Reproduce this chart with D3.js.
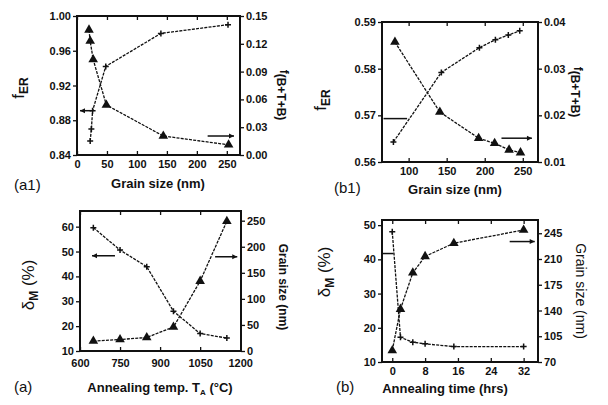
<!DOCTYPE html>
<html><head><meta charset="utf-8">
<script src="https://cdn.jsdelivr.net/npm/d3@7"></script>
<style>
body{margin:0;background:#fff;}
text{font-family:"Liberation Sans",Arial,sans-serif;fill:#111;}
.tick text{font-weight:bold;font-size:11px;}
</style></head><body>
<svg id="fig" width="608" height="405"></svg>
<script>
// (a1) f_ER and f(B+T+B) vs grain size
var a1CrossGrain = [22, 24, 26, 48, 140, 252];
var a1Fer = [0.856, 0.870, 0.891, 0.942, 0.980, 0.990];
var a1TriGrain = [20, 22, 27, 49, 144, 253];
var a1Fbtb = [0.135, 0.123, 0.103, 0.054, 0.0205, 0.011];
var a1XTicks = [0, 50, 100, 150, 200, 250];
var a1LTicks = [0.84, 0.88, 0.92, 0.96, 1.00];
var a1RTicks = [0.00, 0.03, 0.06, 0.09, 0.12, 0.15];

// (b1)
var b1CrossGrain = [80, 143, 193, 214, 231, 246];
var b1Fer = [0.5643, 0.5792, 0.5845, 0.5862, 0.5872, 0.5881];
var b1TriGrain = [82, 141, 192, 213, 232, 247];
var b1Fbtb = [0.0357, 0.0207, 0.0151, 0.0140, 0.0126, 0.0120];
var b1XTicks = [100, 150, 200, 250];
var b1LTicks = [0.56, 0.57, 0.58, 0.59];
var b1RTicks = [0.01, 0.02, 0.03, 0.04];

// (a) delta_M and grain size vs annealing temperature
var aTemp = [650, 750, 850, 950, 1050, 1150];
var aDelta = [59.6, 50.6, 43.9, 26.0, 17.0, 15.2];
var aGrain = [19, 22, 26, 46, 134, 249];
var aXTicks = [600, 750, 900, 1050, 1200];
var aLTicks = [10, 20, 30, 40, 50, 60];
var aRTicks = [0, 50, 100, 150, 200, 250];

// (b) delta_M and grain size vs annealing time
var bTime = [0, 2, 5, 8, 15, 32];
var bDelta = [48.1, 17.2, 15.8, 15.3, 14.5, 14.5];
var bGrain = [85.6, 141.8, 191.2, 213.5, 231.5, 249.4];
var bXTicks = [0, 8, 16, 24, 32];
var bLTicks = [10, 20, 30, 40, 50];
var bRTicks = [70, 105, 140, 175, 210, 245];

var svg = d3.select('#fig');

function panel(cfg) {
  var g = svg.append('g');
  var b = cfg.box;
  var x = d3.scaleLinear().domain(cfg.xDom).range([b[0], b[2]]);
  var yL = d3.scaleLinear().domain(cfg.lDom).range([b[3], b[1]]);
  var yR = d3.scaleLinear().domain(cfg.rDom).range([b[3], b[1]]);

  g.append('g').attr('transform', 'translate(0,' + b[3] + ')')
    .call(d3.axisBottom(x).tickValues(cfg.xTicks).tickSize(-4).tickPadding(cfg.xPad || 5).tickFormat(d3.format('d')));
  g.append('g').attr('transform', 'translate(0,' + b[1] + ')')
    .call(d3.axisTop(x).tickValues(cfg.xTicks).tickSize(-4).tickFormat(''));
  g.append('g').attr('transform', 'translate(' + b[0] + ',0)')
    .call(d3.axisLeft(yL).tickValues(cfg.lTicks).tickSize(4).tickPadding(2).tickFormat(d3.format(cfg.lFmt)));
  g.append('g').attr('transform', 'translate(' + b[2] + ',0)')
    .call(d3.axisRight(yR).tickValues(cfg.rTicks).tickSize(4).tickPadding(2).tickFormat(d3.format(cfg.rFmt)));
  g.selectAll('.domain').remove();
  g.selectAll('.tick line').attr('stroke', '#111').attr('stroke-width', 1.3);

  g.append('rect').attr('x', b[0]).attr('y', b[1])
    .attr('width', b[2] - b[0]).attr('height', b[3] - b[1])
    .attr('fill', 'none').attr('stroke', '#111').attr('stroke-width', 2);

  var lineL = d3.line().x(function (d) { return x(d[0]); }).y(function (d) { return yL(d[1]); });
  var lineR = d3.line().x(function (d) { return x(d[0]); }).y(function (d) { return yR(d[1]); });
  var crossPts = d3.zip(cfg.crossX, cfg.crossY);
  var triPts = d3.zip(cfg.triX, cfg.triY);

  g.append('path').attr('d', lineL(crossPts)).attr('fill', 'none')
    .attr('stroke', '#111').attr('stroke-width', 1.3).attr('stroke-dasharray', '3,1.2');
  g.append('path').attr('d', lineR(triPts)).attr('fill', 'none')
    .attr('stroke', '#111').attr('stroke-width', 1.3).attr('stroke-dasharray', '3,1.2');

  g.selectAll('.cross').data(crossPts).enter().append('path')
    .attr('transform', function (d) { return 'translate(' + x(d[0]) + ',' + yL(d[1]) + ')'; })
    .attr('d', 'M-3,0H3M0,-3V3').attr('stroke', '#111').attr('stroke-width', 1.5);
  g.selectAll('.tri').data(triPts).enter().append('path')
    .attr('transform', function (d) { return 'translate(' + x(d[0]) + ',' + yR(d[1]) + ')'; })
    .attr('d', d3.symbol(d3.symbolTriangle, 40)).attr('fill', '#111');

  // arrows pointing to the axis of each series
  cfg.arrows.forEach(function (a) {
    var ys = a.axis == 'L' ? yL : yR;
    var x1 = x(a.x1), x2 = x(a.x2), yy = ys(a.y);
    g.append('line').attr('x1', x1).attr('x2', x2).attr('y1', yy).attr('y2', yy)
      .attr('stroke', '#111').attr('stroke-width', 1.5);
    if (a.head) {
      var dir = x2 < x1 ? -1 : 1;
      g.append('path').attr('d', 'M' + x2 + ',' + yy + 'l' + (-dir * 5) + ',-2.5v5z').attr('fill', '#111');
    }
  });

  // axis titles
  var lt = g.append('text').attr('transform', 'translate(' + cfg.lPos[0] + ',' + cfg.lPos[1] + ') rotate(-90)')
    .attr('text-anchor', 'middle').style('font-size', '17px');
  lt.append('tspan').text(cfg.lTitle[0]);
  lt.append('tspan').attr('dy', 4).style('font-size', '12px').style('font-weight', 'bold').text(cfg.lTitle[1]);
  if (cfg.lTitle[2]) lt.append('tspan').attr('dy', -4).text(cfg.lTitle[2]);

  var rt = g.append('text').attr('transform', 'translate(' + cfg.rPos[0] + ',' + cfg.rPos[1] + ') rotate(90)')
    .attr('text-anchor', 'middle').style('font-size', cfg.rSize).style('font-weight', cfg.rWeight);
  rt.append('tspan').text(cfg.rTitle[0]);
  if (cfg.rTitle[1]) rt.append('tspan').attr('dy', 3).text(cfg.rTitle[1]);

  var xt = g.append('text').attr('x', cfg.xPos[0]).attr('y', cfg.xPos[1])
    .attr('text-anchor', 'middle').style('font-size', '13px').style('font-weight', 'bold');
  xt.append('tspan').text(cfg.xTitle[0]);
  if (cfg.xTitle[1]) {
    xt.append('tspan').attr('dy', 3).style('font-size', '8px').text(cfg.xTitle[1]);
    xt.append('tspan').attr('dy', -3).text(cfg.xTitle[2]);
  }

  g.append('text').attr('x', cfg.tag[0]).attr('y', cfg.tag[1])
    .style('font-size', '15px').text(cfg.tag[2]);
}

panel({
  box: [77, 16, 240, 155], xDom: [0, 272], lDom: [0.84, 1.00], rDom: [0, 0.15],
  xTicks: a1XTicks, lTicks: a1LTicks, rTicks: a1RTicks, lFmt: '.2f', rFmt: '.2f',
  crossX: a1CrossGrain, crossY: a1Fer, triX: a1TriGrain, triY: a1Fbtb,
  arrows: [{axis: 'L', x1: 24, x2: 5, y: 0.891, head: true},
           {axis: 'R', x1: 218, x2: 262, y: 0.0205, head: true}],
  lTitle: ['f', 'ER'], lPos: [24, 88],
  rTitle: ['f', '(B+T+B)'], rPos: [280, 95], rSize: '12px', rWeight: 'bold',
  xTitle: ['Grain size (nm)'], xPos: [158, 188], tag: [14, 190, '(a1)']
});

panel({
  box: [382, 22, 538, 162], xDom: [65, 270], lDom: [0.56, 0.59], rDom: [0.01, 0.04],
  xTicks: b1XTicks, lTicks: b1LTicks, rTicks: b1RTicks, lFmt: '.2f', rFmt: '.2f',
  crossX: b1CrossGrain, crossY: b1Fer, triX: b1TriGrain, triY: b1Fbtb,
  arrows: [{axis: 'L', x1: 98, x2: 67, y: 0.5693, head: false},
           {axis: 'R', x1: 222, x2: 262, y: 0.0151, head: true}],
  lTitle: ['f', 'ER'], lPos: [326, 100],
  rTitle: ['f', '(B+T+B)'], rPos: [574, 92], rSize: '12px', rWeight: 'bold',
  xTitle: ['Grain size (nm)'], xPos: [455, 194], tag: [334, 193, '(b1)']
});

panel({
  box: [80, 211, 241, 351], xDom: [600, 1203], lDom: [10, 66.3], rDom: [0, 268.6], xPad: 8,
  xTicks: aXTicks, lTicks: aLTicks, rTicks: aRTicks, lFmt: 'd', rFmt: 'd',
  crossX: aTemp, crossY: aDelta, triX: aTemp, triY: aGrain,
  arrows: [{axis: 'L', x1: 731, x2: 645, y: 48.3, head: true},
           {axis: 'R', x1: 1106, x2: 1189, y: 180.8, head: true}],
  lTitle: ['\u03b4', 'M', ' (%)'], lPos: [34, 285],
  rTitle: ['Grain size (nm)'], rPos: [279, 287], rSize: '12px', rWeight: 'bold',
  xTitle: ['Annealing temp. T', 'A', ' (\u00b0C)'], xPos: [160, 392], tag: [14, 392, '(a)']
});

panel({
  box: [382, 220, 538, 362], xDom: [-2.5, 35.5], lDom: [10, 51.5], rDom: [70, 263],
  xTicks: bXTicks, lTicks: bLTicks, rTicks: bRTicks, lFmt: 'd', rFmt: 'd',
  crossX: bTime, crossY: bDelta, triX: bTime, triY: bGrain,
  arrows: [{axis: 'L', x1: 0.3, x2: -2.4, y: 41.7, head: false},
           {axis: 'R', x1: 28.6, x2: 34.7, y: 233.7, head: true}],
  lTitle: ['\u03b4', 'M', ' (%)'], lPos: [330, 272],
  rTitle: ['Grain size (nm)'], rPos: [576, 291], rSize: '14px', rWeight: 'normal',
  xTitle: ['Annealing time (hrs)'], xPos: [445, 393], tag: [336, 392, '(b)']
});
</script>
</body></html>
